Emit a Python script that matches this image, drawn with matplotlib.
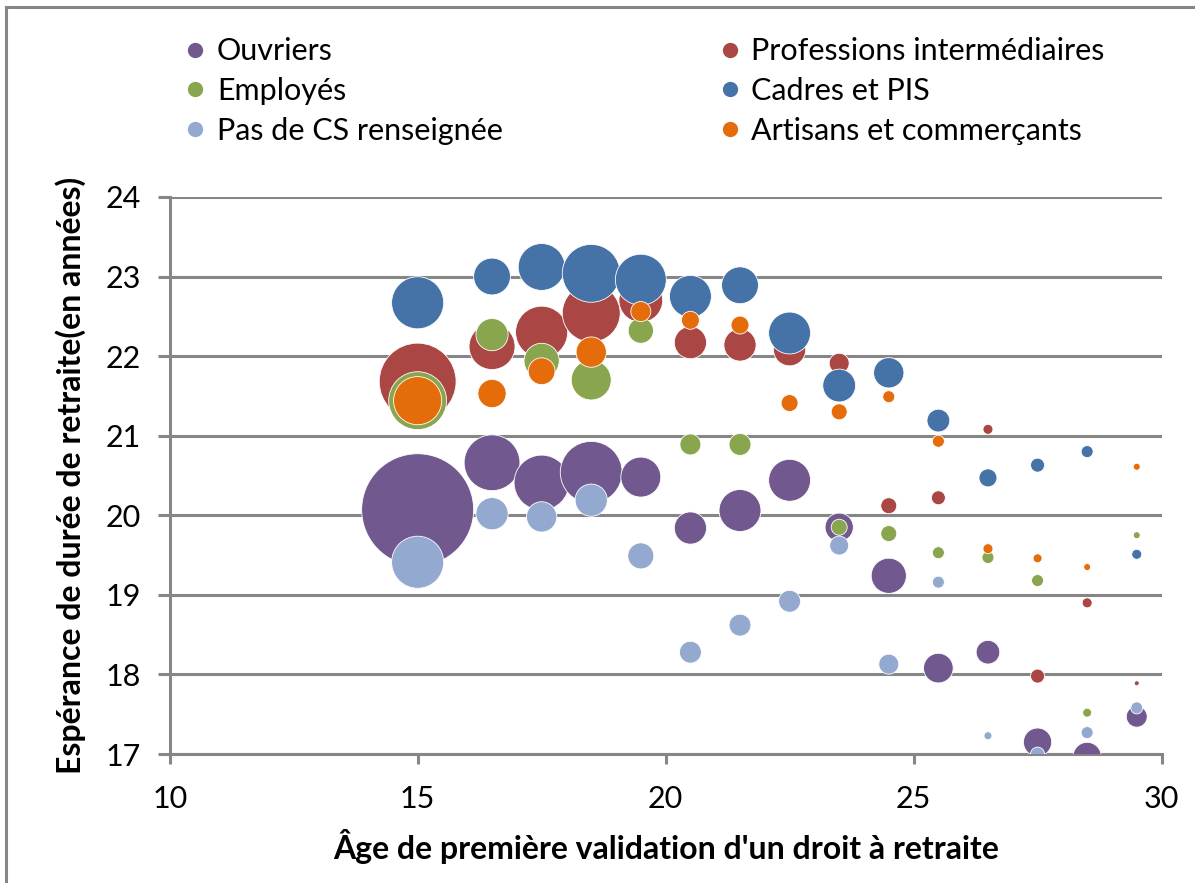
import matplotlib.pyplot as plt
from matplotlib.lines import Line2D
from matplotlib.patches import Rectangle

# Age of first pension-right validation (bubble centres)
ages = [15, 16.5, 17.5, 18.5, 19.5, 20.5, 21.5, 22.5, 23.5, 24.5, 25.5, 26.5, 27.5, 28.5, 29.5]

# Life expectancy in retirement (years), per category
ouvriers = [20.07, 20.66, 20.41, 20.54, 20.48, 19.84, 20.06, 20.44, 19.85, 19.24, 18.08, 18.28, 17.15, 16.97, 17.47]
prof_inter = [21.68, 22.12, 22.30, 22.54, 22.70, 22.17, 22.14, 22.08, 21.91, 20.12, 20.22, 21.08, 17.98, 18.90, 17.89]
employes_ages = [15, 16.5, 17.5, 18.5, 19.5, 20.5, 21.5, 23.5, 24.5, 25.5, 26.5, 27.5, 28.5, 29.5]
employes = [21.44, 22.27, 21.94, 21.70, 22.32, 20.89, 20.89, 19.85, 19.77, 19.53, 19.47, 19.18, 17.52, 19.75]
cadres = [22.67, 23.00, 23.12, 23.04, 22.96, 22.75, 22.89, 22.29, 21.63, 21.79, 21.19, 20.47, 20.63, 20.80, 19.51]
pas_cs = [19.41, 20.02, 19.98, 20.19, 19.49, 18.28, 18.62, 18.92, 19.62, 18.13, 19.16, 17.23, 17.00, 17.27, 17.58]
artisans = [21.44, 21.53, 21.81, 22.05, 22.56, 22.45, 22.39, 21.41, 21.30, 21.49, 20.93, 19.58, 19.46, 19.35, 20.61]

# Bubble weights (proportional to bubble area)
w_ouvriers = [314, 78, 76, 96, 40, 26, 44, 44, 20, 31, 22, 14, 20, 20, 11]
w_prof_inter = [148, 53, 68, 84, 48, 26, 26, 26, 10, 6.4, 4.9, 2.5, 4.9, 2.5, 0.6]
w_employes = [84, 26, 31, 40, 16, 11, 12, 6.4, 6.4, 3.6, 3.6, 3.6, 2.0, 1.2]
w_cadres = [68, 34, 55, 84, 65, 44, 34, 44, 27, 23, 13, 8.1, 4.9, 3.6, 2.5]
w_pas_cs = [68, 26, 23, 26, 17, 12, 12, 12, 9.0, 10, 3.6, 1.6, 4.9, 3.6, 3.6]
w_artisans = [58, 20, 18, 23, 10, 8.1, 8.1, 7.2, 6.4, 3.6, 3.6, 2.5, 2.0, 1.2, 1.2]

xticks = [10, 15, 20, 25, 30]
yticks = [17, 18, 19, 20, 21, 22, 23, 24]

FONT = ["Lato", "DejaVu Sans"]
GRID = "#868686"

# (label, x, y, weights, colour) in drawing order
series = [
    ("Ouvriers", ages, ouvriers, w_ouvriers, "#71588F"),
    ("Professions intermédiaires", ages, prof_inter, w_prof_inter, "#AA4643"),
    ("Employés", employes_ages, employes, w_employes, "#89A54E"),
    ("Cadres et PIS", ages, cadres, w_cadres, "#4572A7"),
    ("Pas de CS renseignée", ages, pas_cs, w_pas_cs, "#93A9CF"),
    ("Artisans et commerçants", ages, artisans, w_artisans, "#E46C0A"),
]

fig = plt.figure(figsize=(11.95, 8.83), dpi=100)
ax = fig.add_axes([0.142, 0.146, 0.830, 0.631])

# weight -> marker area (points^2)
scale = 20.7
for label, x, y, w, color in series:
    ax.scatter(x, y, s=[v * scale for v in w], color=color,
               edgecolors="white", linewidths=0.6, zorder=3)

ax.set_xlim(10, 30)
ax.set_ylim(17, 24)
ax.set_xticks(xticks)
ax.set_yticks(yticks)
ax.grid(axis="y", color=GRID, lw=2.2)
ax.set_axisbelow(True)
for side in ("top", "right"):
    ax.spines[side].set_visible(False)
for side in ("left", "bottom"):
    ax.spines[side].set_color(GRID)
    ax.spines[side].set_linewidth(2.2)
ax.tick_params(axis="y", direction="out", length=9, width=2.2, color=GRID, pad=12)
ax.tick_params(axis="x", direction="out", length=7, width=2.2, color=GRID, pad=15)
for t in ax.get_xticklabels() + ax.get_yticklabels():
    t.set_family(FONT)
    t.set_fontsize(22)

ax.set_xlabel("Âge de première validation d'un droit à retraite",
              family=FONT, fontsize=23, fontweight="bold", labelpad=12)
ax.set_ylabel("Espérance de durée de retraite(en années)",
              family=FONT, fontsize=23, fontweight="bold", labelpad=14)

# legend in two columns, row-wise order
def handle(color):
    return Line2D([], [], ls="none", marker="o", ms=11, color=color, mec="none")

col1 = [series[0], series[2], series[4]]
col2 = [series[1], series[3], series[5]]
for cols, xpos in ((col1, 0.138), (col2, 0.585)):
    leg = fig.legend([handle(s[4]) for s in cols], [s[0] for s in cols],
                     loc="upper left", bbox_to_anchor=(xpos, 0.982), frameon=False,
                     prop={"family": FONT, "size": 22}, handlelength=0.6,
                     handletextpad=0.4, labelspacing=0.38, borderpad=0.2)

# chart-area border
fig.patches.append(Rectangle((6 / 1195, -0.05), 1.2, 1 - 7 / 883 + 0.05,
                             transform=fig.transFigure, fill=False,
                             edgecolor=GRID, lw=2.2))

fig.savefig("out.png", dpi=100)
